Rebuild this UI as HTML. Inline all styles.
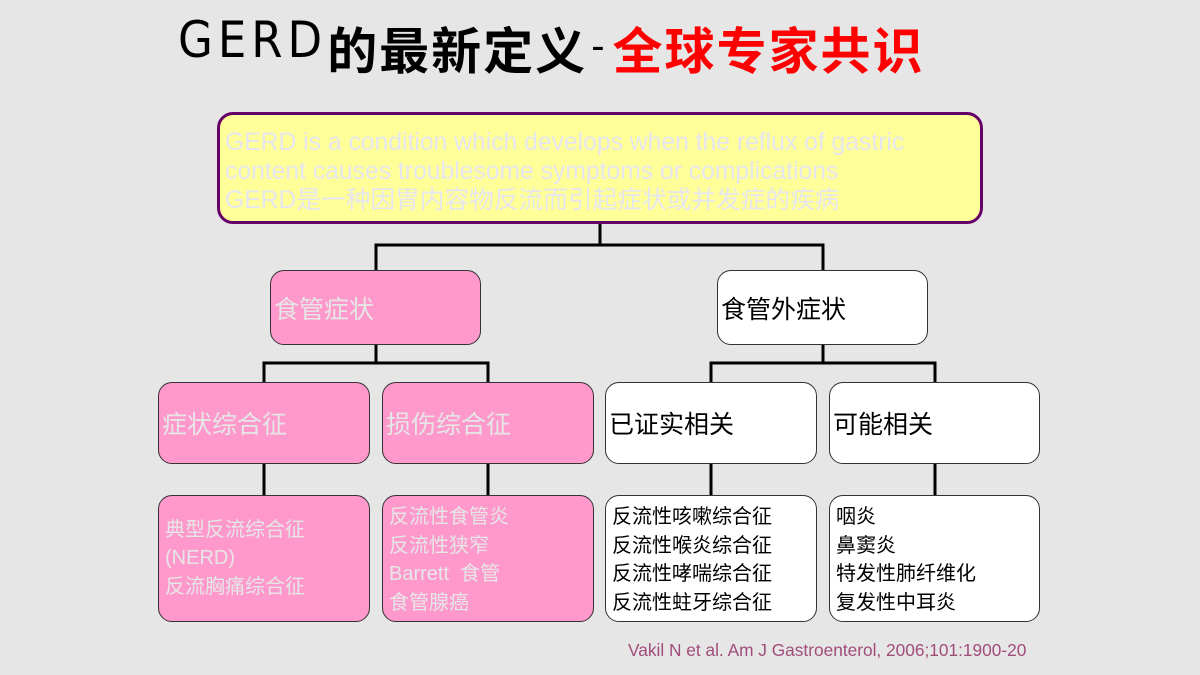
<!DOCTYPE html>
<html><head><meta charset="utf-8"><style>
body{margin:0;width:1200px;height:675px;background:#e6e6e6;position:relative;overflow:hidden;font-family:"Liberation Sans","Noto Sans CJK SC",sans-serif}
.b{position:absolute;box-sizing:border-box;border:1.5px solid #333;border-radius:14px;display:flex;flex-direction:column;justify-content:center;padding-left:3px}
.p{background:#ff99cc;color:#e6e6e6}
.w{background:#fff;color:#000}
.l{font-size:25px}
.s{font-size:20px;line-height:28.5px}
svg{position:absolute;left:0;top:0}
</style></head><body>
<div style="position:absolute;left:178px;top:0px;white-space:nowrap">
<span style="font-family:'DejaVu Sans Condensed','Liberation Sans',sans-serif;font-size:50px;color:#000;letter-spacing:5px">GERD</span><span style="font-family:'Noto Sans CJK SC',sans-serif;font-weight:bold;font-size:50px;color:#000;position:relative;top:12px;letter-spacing:2px">的最新定义</span><span style="font-size:40px;color:#000;position:relative;top:2px;margin:0 8px 0 4px">-</span><span style="font-family:'Noto Sans CJK SC',sans-serif;font-weight:bold;font-size:50px;color:#ff0000;position:relative;top:12px;letter-spacing:2px">全球专家共识</span>
</div>
<svg width="1200" height="675">
<g stroke="#000" stroke-width="3" fill="none">
<path d="M600 224V245M376 270V245H823V270"/>
<path d="M376 345V363M264 382V363H488V382"/>
<path d="M823 345V363M711 382V363H935V382"/>
<path d="M264 464V495M488 464V495M711 464V495M935 464V495"/>
</g></svg>
<div style="position:absolute;left:217px;top:112px;width:766px;height:112px;box-sizing:border-box;border:3px solid #660066;border-radius:16px;background:#ffff99;color:#e6e6f0;font-size:24.7px;line-height:29px;padding:13px 0 0 5px;white-space:nowrap">GERD is a condition which develops when the reflux of gastric<br>content causes troublesome symptoms or complications<br>GERD是一种因胃内容物反流而引起症状或并发症的疾病</div>
<div class="b p l" style="left:270px;top:270px;width:211px;height:75px">食管症状</div>
<div class="b w l" style="left:717px;top:270px;width:211px;height:75px">食管外症状</div>
<div class="b p l" style="left:158px;top:382px;width:212px;height:82px">症状综合征</div>
<div class="b p l" style="left:382px;top:382px;width:212px;height:82px">损伤综合征</div>
<div class="b w l" style="left:605px;top:382px;width:212px;height:82px">已证实相关</div>
<div class="b w l" style="left:829px;top:382px;width:211px;height:82px">可能相关</div>
<div class="b p s" style="left:158px;top:495px;width:212px;height:127px;padding-left:6px">典型反流综合征<br>(NERD)<br>反流胸痛综合征</div>
<div class="b p s" style="left:382px;top:495px;width:212px;height:127px;justify-content:flex-start;padding-top:7px;padding-left:6px">反流性食管炎<br>反流性狭窄<br>Barrett&nbsp; 食管<br>食管腺癌</div>
<div class="b w s" style="left:605px;top:495px;width:212px;height:127px;justify-content:flex-start;padding-top:7px;padding-left:6px">反流性咳嗽综合征<br>反流性喉炎综合征<br>反流性哮喘综合征<br>反流性蛀牙综合征</div>
<div class="b w s" style="left:829px;top:495px;width:211px;height:127px;justify-content:flex-start;padding-top:7px;padding-left:6px">咽炎<br>鼻窦炎<br>特发性肺纤维化<br>复发性中耳炎</div>
<div style="position:absolute;left:628px;top:640px;font-size:17.3px;color:#a04d7a">Vakil N et al. Am J Gastroenterol, 2006;101:1900-20</div>
</body></html>
